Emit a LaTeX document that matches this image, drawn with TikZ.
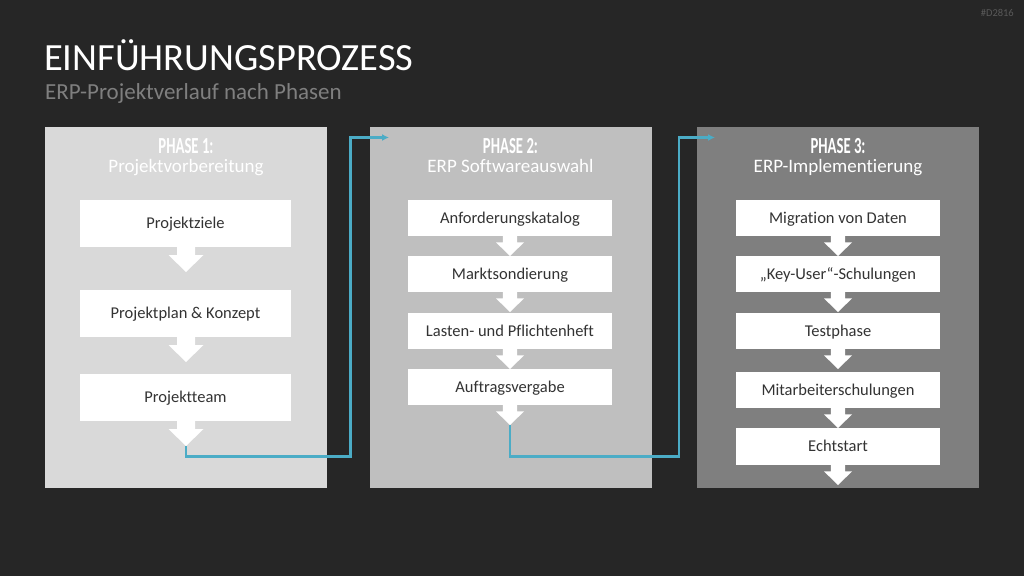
\documentclass[tikz,border=0pt]{standalone}
\usepackage{fontspec}
\setmainfont{Carlito}[Ligatures={NoCommon}]
\newfontfamily\condfont{Carlito}[FakeStretch=0.64]
\usetikzlibrary{arrows.meta}
\definecolor{bg}{HTML}{262626}
\definecolor{pA}{HTML}{D9D9D9}
\definecolor{pB}{HTML}{BFBFBF}
\definecolor{pC}{HTML}{7F7F7F}
\definecolor{txt}{HTML}{333333}
\definecolor{sub}{HTML}{7F7F7F}
\definecolor{tag}{HTML}{595959}
\definecolor{link}{HTML}{4BACC6}
\tikzset{
  panel/.style={anchor=north west, minimum width=282pt, minimum height=361pt, inner sep=0pt, outer sep=0pt},
  box/.style={fill=white, inner sep=0pt, text=txt, font=\fontsize{16.5}{19}\selectfont, text height=10.5pt, text depth=0.5pt},
  bigbox/.style={box, minimum width=211pt, minimum height=47pt},
  smallbox/.style={box, minimum width=204pt, minimum height=36pt},
  phasehead/.style={text=white, inner sep=0pt, anchor=base, font=\condfont\bfseries\fontsize{23}{24}\selectfont},
  phasesub/.style={text=white, inner sep=0pt, anchor=base, font=\fontsize{19}{21}\selectfont},
  darrow/.pic={\fill[white] (-9,0) -- (9,0) -- (9,8) -- (17.5,8) -- (0,25) -- (-17.5,8) -- (-9,8) -- cycle;},
  conn/.style={draw=link, line width=2.4pt, -{Latex[length=7pt,width=7pt]}},
}
\begin{document}
\begin{tikzpicture}[x=1pt,y=-1pt]
\fill[bg] (0,0) rectangle (1024,576);
\path[use as bounding box] (0,0) rectangle (1024,576);

\node[anchor=east, text=tag, font=\fontsize{10.5}{12}\selectfont, inner sep=0pt] (tag) at (1014,13) {\#D2816};
\node[anchor=west, text=white, font=\fontsize{38.5}{42}\selectfont, inner sep=0pt] (title) at (44,55) {EINFÜHRUNGSPROZESS};
\node[anchor=west, text=sub, font=\fontsize{23}{26}\selectfont, inner sep=0pt] (subtitle) at (45,93) {ERP-Projektverlauf nach Phasen};

% panels
\node[panel, fill=pA] (P1) at (45,127) {};
\node[panel, fill=pB] (P2) at (370,127) {};
\node[panel, fill=pC] (P3) at (697,127) {};

\node[phasehead] (h1) at (186,153.5) {PHASE 1:};
\node[phasesub] (s1) at (186,172.5) {Projektvorbereitung};
\node[phasehead] (h2) at (510.5,153.5) {PHASE 2:};
\node[phasesub] (s2) at (510.5,172.5) {ERP Softwareauswahl};
\node[phasehead] (h3) at (838,153.5) {PHASE 3:};
\node[phasesub] (s3) at (838,172.5) {ERP-Implementierung};

% phase 1
\node[bigbox] (a1) at (185.5,223.5) {Projektziele};
\node[bigbox] (a2) at (185.5,313.5) {Projektplan \& Konzept};
\node[bigbox] (a3) at (185.5,397.5) {Projektteam};
\pic at (186,247) {darrow};
\pic at (186,337) {darrow};
\pic at (186,421) {darrow};
\coordinate (p1out) at (186,446);

% phase 2
\node[smallbox] (b1) at (510,218) {Anforderungskatalog};
\node[smallbox] (b2) at (510,274) {Marktsondierung};
\node[smallbox] (b3) at (510,331) {Lasten- und Pflichtenheft};
\node[smallbox] (b4) at (510,387) {Auftragsvergabe};
\foreach \y in {236,292,349,405} \pic[scale=0.8] at (510,\y) {darrow};
\coordinate (p2out) at (510,425);

% phase 3
\node[smallbox] (c1) at (838,218) {Migration von Daten};
\node[smallbox] (c2) at (838,274) {„Key-User“-Schulungen};
\node[smallbox] (c3) at (838,331) {Testphase};
\node[smallbox] (c4) at (838,390) {Mitarbeiterschulungen};
\node[smallbox, minimum height=37pt] (c5) at (838,446.5) {Echtstart};
\foreach \y in {236,292,349,408,465} \pic[scale=0.8] at (838,\y) {darrow};

% connectors
\coordinate (p2in) at (389,137.5);
\coordinate (p3in) at (715,137.5);
\coordinate (k1) at (350.5,456.5);
\coordinate (k2) at (679,456.5);
\draw[conn] (p1out) |- (k1) |- (p2in);
\draw[conn] (p2out) |- (k2) |- (p3in);
\end{tikzpicture}
\end{document}
